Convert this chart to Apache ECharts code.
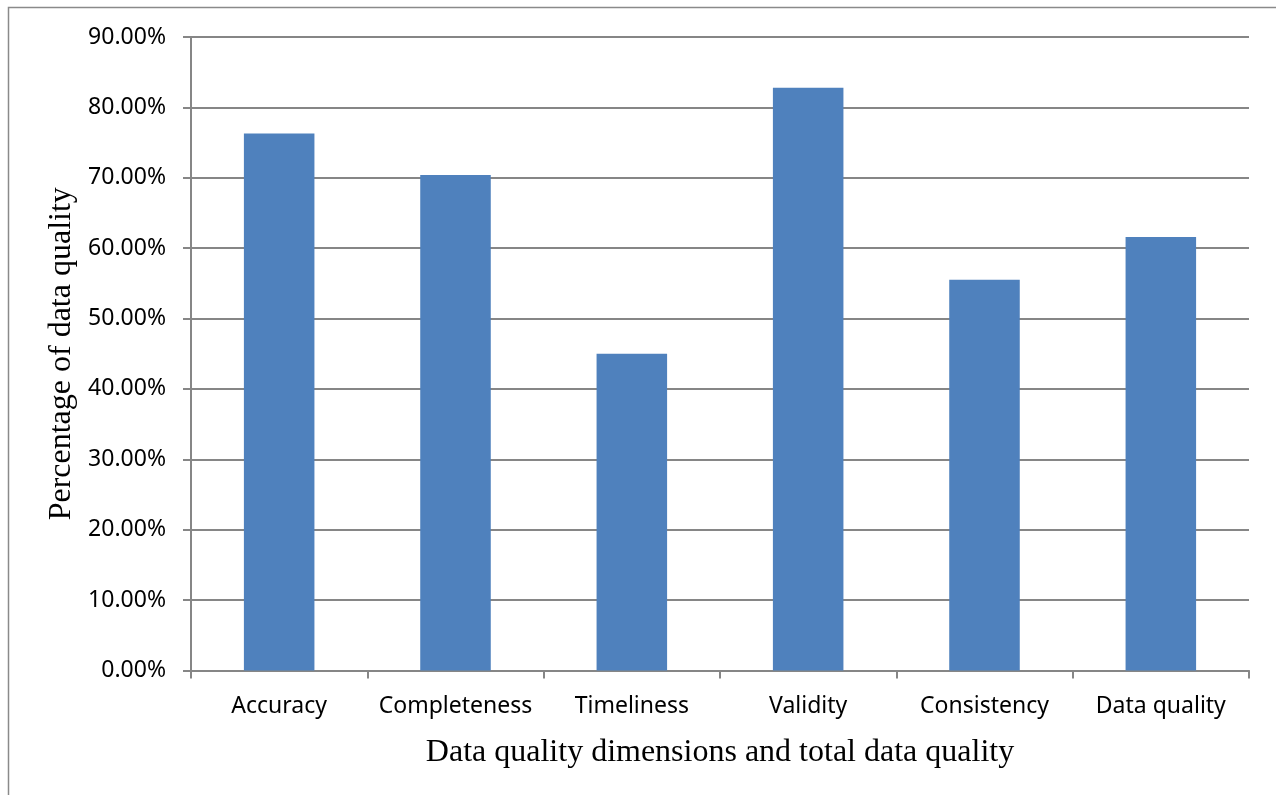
<!DOCTYPE html>
<html>
<head>
<meta charset="utf-8">
<script src="https://cdn.jsdelivr.net/npm/echarts@6/dist/echarts.min.js"></script>
<style>html,body{margin:0;padding:0;background:#fff;}#c{width:1276px;height:795px;}</style>
</head>
<body>
<div id="c"></div>
<script>
const categories = ['Accuracy', 'Completeness', 'Timeliness', 'Validity', 'Consistency', 'Data quality'];
const values = [76.3, 70.4, 45.0, 82.8, 55.5, 61.6];
const yTicks = [0, 10, 20, 30, 40, 50, 60, 70, 80, 90];

const chart = echarts.init(document.getElementById('c'), null, {renderer: 'canvas'});
const gray = '#868686';
chart.setOption({
  animation: false,
  backgroundColor: '#fff',
  graphic: [{
    type: 'rect', shape: {x: 8.5, y: 7.5, width: 1400, height: 900},
    style: {fill: 'none', stroke: '#8a8a8a', lineWidth: 1.5}, z: -1
  }],
  grid: {left: 191, right: 27, top: 37, bottom: 124.5, containLabel: false},
  xAxis: {
    type: 'category', data: categories,
    name: 'Data quality dimensions and total data quality',
    nameLocation: 'middle', nameGap: 66,
    nameTextStyle: {fontFamily: 'Liberation Serif', fontSize: 32, color: '#000'},
    axisLine: {lineStyle: {color: gray, width: 2}},
    axisTick: {show: true, length: 8, lineStyle: {color: gray, width: 2}},
    axisLabel: {fontFamily: 'Noto Sans', fontSize: 23, color: '#000', margin: 24, interval: 0}
  },
  yAxis: {
    type: 'value', min: yTicks[0], max: yTicks[yTicks.length - 1], interval: 10,
    name: 'Percentage of data quality',
    nameLocation: 'middle', nameGap: 108,
    nameTextStyle: {fontFamily: 'Liberation Serif', fontSize: 32, color: '#000'},
    axisLine: {show: true, lineStyle: {color: gray, width: 2}},
    axisTick: {show: true, length: 8, lineStyle: {color: gray, width: 2}},
    splitLine: {lineStyle: {color: gray, width: 2}},
    axisLabel: {fontFamily: 'Noto Sans', fontSize: 23, color: '#000', margin: 25,
      formatter: v => v.toFixed(2) + '%'}
  },
  series: [{
    type: 'bar', data: values, barCategoryGap: '60%',
    itemStyle: {color: '#4F81BD'}
  }]
});
</script>
</body>
</html>
